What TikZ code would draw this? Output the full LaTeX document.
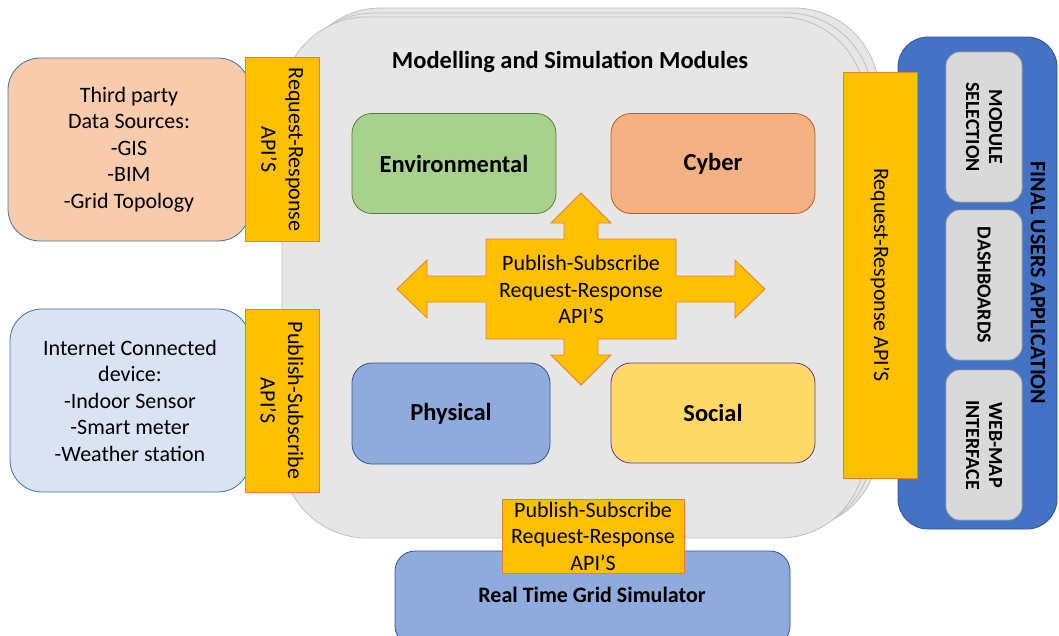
\documentclass[tikz,border=0pt]{standalone}
\usepackage{fontspec}
\setmainfont{Carlito}
\usetikzlibrary{positioning}
\definecolor{panelfill}{HTML}{E7E6E6}
\definecolor{panelline}{HTML}{C0C0C0}
\definecolor{apifill}{HTML}{FFC000}
\definecolor{apiline}{HTML}{ED7D31}
\definecolor{srcline}{HTML}{41719C}
\definecolor{thirdfill}{HTML}{F8CBAD}
\definecolor{iotfill}{HTML}{DAE3F3}
\definecolor{envfill}{HTML}{A9D18E}
\definecolor{envline}{HTML}{548235}
\definecolor{cyberfill}{HTML}{F4B183}
\definecolor{cyberline}{HTML}{C55A11}
\definecolor{physfill}{HTML}{8FAADC}
\definecolor{physline}{HTML}{2F5597}
\definecolor{socfill}{HTML}{FFD966}
\definecolor{socline}{HTML}{7030A0}
\definecolor{userfill}{HTML}{4472C4}
\definecolor{toolfill}{HTML}{D9D9D9}
\definecolor{toolline}{HTML}{A6A6A6}

\begin{document}
\begin{tikzpicture}[x=1pt,y=-1pt,
  every node/.style={font=\fontsize{22}{26.5}\selectfont, align=center, inner sep=0pt, outer sep=0pt},
  panel/.style={draw=panelline, fill=panelfill, line width=0.8pt, rounded corners=85},
  source/.style={draw=srcline, fill=#1, line width=0.8pt, rounded corners=32, minimum width=242, minimum height=183},
  api/.style={draw=apiline, fill=apifill, line width=0.8pt},
  module/.style={draw=#1line, fill=#1fill, line width=0.8pt, rounded corners=20, minimum height=100, font=\fontsize{24.5}{28}\selectfont\bfseries},
  tool/.style={draw=toolline, fill=toolfill, line width=0.8pt, rounded corners=14, rotate=-90, minimum width=150, minimum height=76, font=\fontsize{20}{23}\selectfont\bfseries}]
\useasboundingbox (0,0) rectangle (1059,635);
\clip (0,0) rectangle (1059,635);

\draw[panel] (296,8) rectangle (879,529);
\draw[panel] (289,13) rectangle (872,533);
\draw[panel] (282,17) rectangle (865,538);
\node[font=\fontsize{24.5}{28}\selectfont\bfseries] (title) at (570,62) {Modelling and Simulation Modules};

\node[source=thirdfill] (third) at (129,149.5) {Third party\\Data Sources:\\-GIS\\-BIM\\-Grid Topology};
\node[api, rotate=-90, minimum width=184, minimum height=74, font=\fontsize{22}{27.5}\selectfont] (thirdapi) at (282,149.5) {Request-Response\\API'S};
\node[source=iotfill, minimum width=240] (iot) at (130,400.5) {Internet Connected\\device:\\-Indoor Sensor\\-Smart meter\\-Weather station};
\node[api, rotate=-90, minimum width=183, minimum height=74, font=\fontsize{22}{27.5}\selectfont] (iotapi) at (282,400.5) {Publish-Subscribe\\API'S};

\node[module=env, minimum width=204] (env) at (454,163.5) {Environmental};
\node[module=cyber, minimum width=204] (cyber) at (713,163.5) {Cyber};
\node[module=phys, minimum width=198, minimum height=101] (phys) at (451,413.5) {Physical};
\node[module=soc, minimum width=204] (soc) at (713,413) {Social};

\begin{scope}[shift={(581,289)}]
\draw[api] (184,0) -- (154,-29) -- (154,-13) -- (95,-13) -- (95,-50) -- (17,-50) -- (17,-66) -- (30,-66) -- (0,-96)
  -- (-30,-66) -- (-17,-66) -- (-17,-50) -- (-95,-50) -- (-95,-13) -- (-154,-13) -- (-154,-29) -- (-184,0)
  -- (-154,29) -- (-154,13) -- (-95,13) -- (-95,50) -- (-17,50) -- (-17,66) -- (-30,66) -- (0,96)
  -- (30,66) -- (17,66) -- (17,50) -- (95,50) -- (95,13) -- (154,13) -- (154,29) -- cycle;
\node (hub) at (0,0.5) {Publish-Subscribe\\Request-Response\\API'S};
\end{scope}

\draw[draw=physline, fill=userfill, line width=0.8pt, rounded corners=30] (898,37) rectangle (1057,529);
\node[font=\fontsize{22}{26}\selectfont\bfseries, rotate=-90] (users) at (1038,283) {FINAL USERS APPLICATION};
\node[tool] (selection) at (984,127) {MODULE\\SELECTION};
\node[tool] (dashboards) at (984,285) {DASHBOARDS};
\node[tool] (webmap) at (984,445) {WEB-MAP\\INTERFACE};
\node[api, rotate=-90, minimum width=406, minimum height=74] (userapi) at (880,275) {Request-Response API'S};

\node[module=phys, minimum width=395, minimum height=95] (grid) at (592.5,598.5) {};
\node[font=\fontsize{22}{26}\selectfont\bfseries] (gridlabel) at (592,595) {Real Time Grid Simulator};
\node[api, minimum width=182, minimum height=74] (gridapi) at (593,536) {Publish-Subscribe\\Request-Response\\API'S};
\end{tikzpicture}
\end{document}
